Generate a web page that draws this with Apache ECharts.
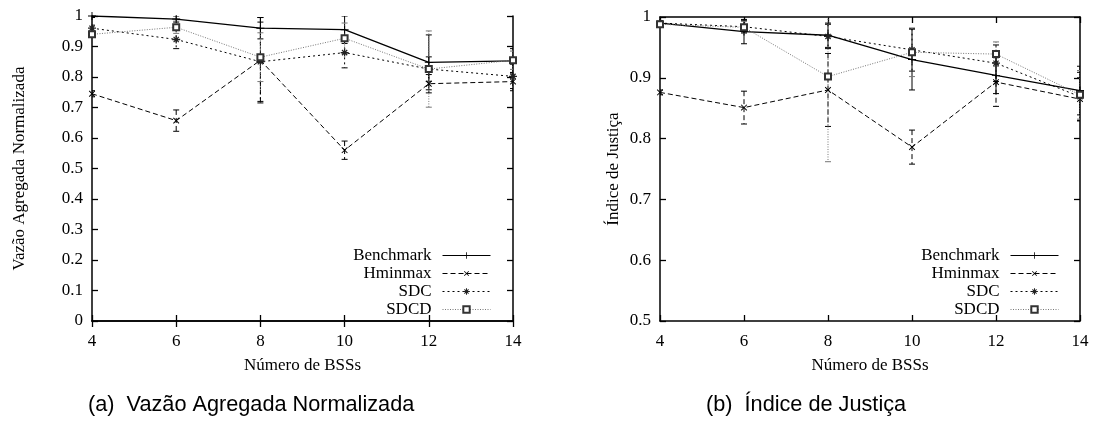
<!DOCTYPE html>
<html><head><meta charset="utf-8">
<script src="https://cdn.jsdelivr.net/npm/echarts@6/dist/echarts.min.js"></script>
<style>html,body{margin:0;padding:0;background:#fff}#c{width:1094px;height:421px}</style>
</head><body><div id="c"></div>
<script>
// ---- data ----
const bssCounts = [4, 6, 8, 10, 12, 14];
const seriesNames = ['Benchmark', 'Hminmax', 'SDC', 'SDCD'];

const vazaoBenchmark = [1.0, 0.99, 0.96, 0.955, 0.848, 0.853];
const vazaoBenchmarkErr = [0.005, 0.01, 0.035, 0.045, 0.09, 0.04];
const vazaoHminmax = [0.745, 0.657, 0.855, 0.56, 0.778, 0.785];
const vazaoHminmaxErr = [0.01, 0.035, 0.14, 0.03, 0.03, 0.03];
const vazaoSDC = [0.96, 0.923, 0.85, 0.88, 0.826, 0.802];
const vazaoSDCErr = [0.01, 0.03, 0.13, 0.05, 0.04, 0.04];
const vazaoSDCD = [0.94, 0.963, 0.865, 0.927, 0.826, 0.855];
const vazaoSDCDErr = [0.01, 0.02, 0.08, 0.05, 0.125, 0.03];

const justicaBenchmark = [0.990, 0.976, 0.970, 0.930, 0.904, 0.879];
const justicaBenchmarkErr = [0.004, 0.02, 0.02, 0.05, 0.03, 0.04];
const justicaHminmax = [0.876, 0.851, 0.880, 0.786, 0.893, 0.865];
const justicaHminmaxErr = [0.004, 0.027, 0.06, 0.028, 0.04, 0.035];
const justicaSDC = [0.990, 0.984, 0.968, 0.946, 0.924, 0.869];
const justicaSDCErr = [0.004, 0.01, 0.02, 0.035, 0.03, 0.04];
const justicaSDCD = [0.988, 0.983, 0.902, 0.942, 0.939, 0.872];
const justicaSDCDErr = [0.004, 0.01, 0.14, 0.04, 0.02, 0.04];

const vazaoTicks = ['0','0.1','0.2','0.3','0.4','0.5','0.6','0.7','0.8','0.9','1'];
const justicaTicks = ['0.5','0.6','0.7','0.8','0.9','1'];

// ---- styles ----
const FONT = 'Liberation Serif';
const styles = {
  Benchmark: {color:'#000', dash:'solid', symbol:'path://M4.4,0H5.6V10H4.4Z M0,4.4H10V5.6H0Z', size:8, rotate:0, width:1.3, fill:'#000'},
  Hminmax: {color:'#000', dash:[5,3], symbol:'path://M4.4,0H5.6V10H4.4Z M0,4.4H10V5.6H0Z', size:8, rotate:45, width:1, fill:'#000'},
  SDC: {color:'#000', dash:[2,3], symbol:'path://M4.2,0H5.8V10H4.2Z M0,4.2H10V5.8H0Z M1.2,2.3L2.3,1.2L8.8,7.7L7.7,8.8Z M7.7,1.2L8.8,2.3L2.3,8.8L1.2,7.7Z', size:8, rotate:0, width:1, fill:'#222'},
  SDCD: {color:'#777', dash:[1,1.5], symbol:'emptyRect', size:6, rotate:0, width:1, fill:'#333'}
};

function pairs(ys){ return bssCounts.map((x,i)=>[x, ys[i]]); }
function triples(ys, es){ return bssCounts.map((x,i)=>[x, ys[i], es[i]]); }

function lineSeries(name, ys, axisIdx){
  const s = styles[name];
  return {
    type:'line', name, xAxisIndex:axisIdx, yAxisIndex:axisIdx, data:pairs(ys),
    symbol:s.symbol, symbolSize:s.size, symbolRotate:s.rotate, showSymbol:true, showAllSymbol:true,
    lineStyle:{color:s.color, width:s.width, type:s.dash},
    itemStyle:{color:s.fill, borderWidth: name==='SDCD'?1:0},
    z:3, animation:false
  };
}

function errSeries(name, ys, es, axisIdx){
  const s = styles[name];
  const dash = s.dash==='solid' ? null : s.dash;
  return {
    type:'custom', name: name + ' err' + axisIdx, xAxisIndex:axisIdx, yAxisIndex:axisIdx,
    data:triples(ys, es), encode:{x:0, y:1}, clip:true, z:2, animation:false,
    renderItem(params, api){
      const x = api.value(0), y = api.value(1), e = api.value(2);
      const top = api.coord([x, y+e]);
      const bot = api.coord([x, y-e]);
      const st = {stroke: s.color, lineWidth: 1, lineDash: dash, fill:null};
      return {type:'group', children:[
        {type:'line', shape:{x1:top[0], y1:top[1], x2:bot[0], y2:bot[1]}, style:st},
        {type:'line', shape:{x1:top[0]-3, y1:top[1], x2:top[0]+3, y2:top[1]}, style:{stroke:s.color, lineWidth:1}},
        {type:'line', shape:{x1:bot[0]-3, y1:bot[1], x2:bot[0]+3, y2:bot[1]}, style:{stroke:s.color, lineWidth:1}}
      ]};
    }
  };
}

function xAxes(gridIndex){
  const base = {type:'value', gridIndex, min:4, max:14, interval:2,
    axisLine:{show:true, lineStyle:{color:'#000', width:1.5}},
    axisTick:{show:true, inside:true, length:6, lineStyle:{color:'#000', width:1.3}},
    splitLine:{show:false}};
  return [
    Object.assign({}, base, {position:'bottom', name:'Número de BSSs', nameLocation:'middle', nameGap:36,
      nameTextStyle:{fontFamily:FONT, fontSize:17, color:'#000'},
      axisLabel:{fontFamily:FONT, fontSize:17, color:'#000', margin:12}}),
    Object.assign({}, base, {position:'top', axisLabel:{show:false}})
  ];
}

function yAxes(gridIndex, min, ticks, name, gap){
  const base = {type:'value', gridIndex, min, max:1, interval:0.1,
    axisLine:{show:true, lineStyle:{color:'#000', width:1.5}},
    axisTick:{show:true, inside:true, length:6, lineStyle:{color:'#000', width:1.3}},
    splitLine:{show:false}};
  return [
    Object.assign({}, base, {position:'left', name, nameLocation:'middle', nameGap:gap,
      nameTextStyle:{fontFamily:FONT, fontSize:17, color:'#000'},
      axisLabel:{fontFamily:FONT, fontSize:17, color:'#000', margin:9,
        formatter:(v)=>{ const i = Math.round((v-min)/0.1); return ticks[i]; }}}),
    Object.assign({}, base, {position:'right', axisLabel:{show:false}})
  ];
}

function legend(right){
  return {
    orient:'vertical', right, top:242, align:'right', itemGap:1, itemWidth:48, itemHeight:8,
    lineStyle:{width:1},
    textStyle:{fontFamily:FONT, fontSize:17, color:'#000', padding:[0,6,0,0]},
    data:seriesNames, selectedMode:false
  };
}

const series = [];
const vaz = {Benchmark:[vazaoBenchmark,vazaoBenchmarkErr], Hminmax:[vazaoHminmax,vazaoHminmaxErr], SDC:[vazaoSDC,vazaoSDCErr], SDCD:[vazaoSDCD,vazaoSDCDErr]};
const jus = {Benchmark:[justicaBenchmark,justicaBenchmarkErr], Hminmax:[justicaHminmax,justicaHminmaxErr], SDC:[justicaSDC,justicaSDCErr], SDCD:[justicaSDCD,justicaSDCDErr]};
seriesNames.forEach(n=>{
  series.push(errSeries(n, vaz[n][0], vaz[n][1], 0));
  series.push(lineSeries(n, vaz[n][0], 0));
  series.push(errSeries(n, jus[n][0], jus[n][1], 2));
  series.push(lineSeries(n, jus[n][0], 2));
});

const chart = echarts.init(document.getElementById('c'), null, {renderer:'canvas'});
chart.setOption({
  animation:false,
  backgroundColor:'#fff',
  grid:[
    {left:92, top:16, width:421, height:305},
    {left:660, top:17, width:420, height:304}
  ],
  xAxis:[...xAxes(0), ...xAxes(1)],
  yAxis:[...yAxes(0, 0, vazaoTicks, 'Vazão Agregada Normalizada', 64), ...yAxes(1, 0.5, justicaTicks, 'Índice de Justiça', 38)],
  legend:[legend(598), legend(30)],
  graphic:[
    {type:'text', left:88, top:394, style:{text:'(a)  Vazão Agregada Normalizada', font:'21.7px "Liberation Sans"', fill:'#000'}},
    {type:'text', left:706, top:394, style:{text:'(b)  Índice de Justiça', font:'21.7px "Liberation Sans"', fill:'#000'}}
  ],
  series
});
</script></body></html>
